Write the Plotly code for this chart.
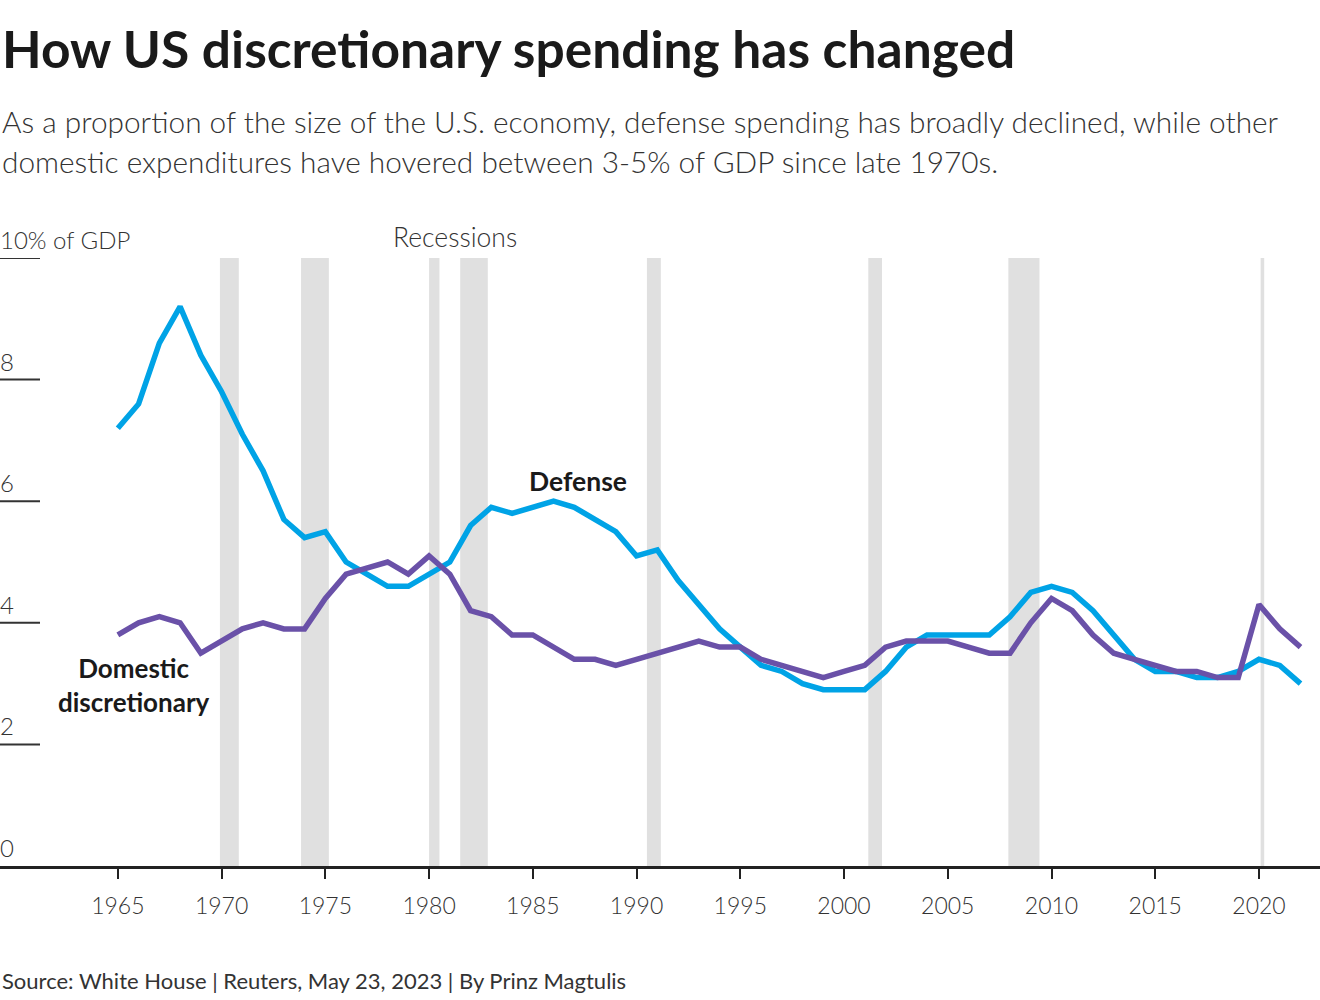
import plotly.graph_objects as go

years = list(range(1965, 2023))
defense = [7.2, 7.6, 8.6, 9.2, 8.4, 7.8, 7.1, 6.5, 5.7, 5.4,
           5.5, 5.0, 4.8, 4.6, 4.6, 4.8, 5.0, 5.6, 5.9, 5.8,
           5.9, 6.0, 5.9, 5.7, 5.5, 5.1, 5.2, 4.7, 4.3, 3.9,
           3.6, 3.3, 3.2, 3.0, 2.9, 2.9, 2.9, 3.2, 3.6, 3.8,
           3.8, 3.8, 3.8, 4.1, 4.5, 4.6, 4.5, 4.2, 3.8, 3.4,
           3.2, 3.2, 3.1, 3.1, 3.2, 3.4, 3.3, 3.0]
domestic = [3.8, 4.0, 4.1, 4.0, 3.5, 3.7, 3.9, 4.0, 3.9, 3.9,
            4.4, 4.8, 4.9, 5.0, 4.8, 5.1, 4.8, 4.2, 4.1, 3.8,
            3.8, 3.6, 3.4, 3.4, 3.3, 3.4, 3.5, 3.6, 3.7, 3.6,
            3.6, 3.4, 3.3, 3.2, 3.1, 3.2, 3.3, 3.6, 3.7, 3.7,
            3.7, 3.6, 3.5, 3.5, 4.0, 4.4, 4.2, 3.8, 3.5, 3.4,
            3.3, 3.2, 3.2, 3.1, 3.1, 4.3, 3.9, 3.6]
recession_start = [1969.92, 1973.83, 1980.0, 1981.5, 1990.5, 2001.17, 2007.92, 2020.08]
recession_end = [1970.83, 1975.17, 1980.5, 1982.83, 1991.17, 2001.83, 2009.42, 2020.25]
x_ticks = [1965, 1970, 1975, 1980, 1985, 1990, 1995, 2000, 2005, 2010, 2015, 2020]
y_ticks = [0, 2, 4, 6, 8, 10]
y_ticktext = ["0", "2", "4", "6", "8", "10% of GDP"]

FONT = "Lato"
DEF_COLOR = "#00a3e6"
DOM_COLOR = "#6a51a8"

fig = go.Figure()
fig.add_trace(go.Scatter(x=years, y=defense, mode="lines",
                         line=dict(color=DEF_COLOR, width=5.5), hoverinfo="skip"))
fig.add_trace(go.Scatter(x=years, y=domestic, mode="lines",
                         line=dict(color=DOM_COLOR, width=5.5), hoverinfo="skip"))

for s, e in zip(recession_start, recession_end):
    fig.add_shape(type="rect", xref="x", yref="y", x0=s, x1=e, y0=0, y1=10,
                  fillcolor="#e0e0e0", line=dict(width=0), layer="below")

# short tick stubs under the y labels
for v in y_ticks[1:]:
    fig.add_shape(type="line", xref="paper", yref="y", x0=0, x1=40/1320, y0=v, y1=v,
                  line=dict(color="#333333", width=2))

annotations = [
    dict(text="<b>How US discretionary spending has changed</b>", xref="paper", yref="paper",
         x=0, y=1.3455, xanchor="left", yanchor="middle", showarrow=False,
         font=dict(family=FONT, size=51.5, color="#1a1a1a")),
    dict(text="As a proportion of the size of the U.S. economy, defense spending has broadly declined, while other",
         xref="paper", yref="paper", x=0, y=1.2237, xanchor="left", yanchor="middle", showarrow=False,
         font=dict(family=FONT, size=29.8, color="#333333", weight=300)),
    dict(text="domestic expenditures have hovered between 3-5% of GDP since late 1970s.",
         xref="paper", yref="paper", x=0, y=1.1579, xanchor="left", yanchor="middle", showarrow=False,
         font=dict(family=FONT, size=29.8, color="#333333", weight=300)),
    dict(text="Recessions", xref="paper", yref="paper", x=455/1320, y=1.0345,
         xanchor="center", yanchor="middle", showarrow=False,
         font=dict(family=FONT, size=26.5, color="#333333", weight=300)),
    dict(text="<b>Defense</b>", xref="x", yref="y", x=1987.18, y=6.33,
         xanchor="center", yanchor="middle", showarrow=False,
         font=dict(family=FONT, size=26.5, color="#1a1a1a")),
    dict(text="<b>Domestic<br>discretionary</b>", xref="x", yref="y", x=1965.78, y=2.98,
         xanchor="center", yanchor="middle", showarrow=False,
         font=dict(family=FONT, size=26, color="#1a1a1a")),
    dict(text="Source: White House | Reuters, May 23, 2023 | By Prinz Magtulis",
         xref="paper", yref="paper", x=0, y=-0.1875, xanchor="left", yanchor="middle", showarrow=False,
         font=dict(family=FONT, size=22, color="#333333")),
]
for v, t in zip(y_ticks, y_ticktext):
    annotations.append(dict(text=t, xref="paper", yref="y", x=0, y=v, xanchor="left", yanchor="bottom",
                            showarrow=False, yshift=2, xshift=-2,
                            font=dict(family=FONT, size=24, color="#333333", weight=300)))

fig.update_layout(
    width=1320, height=1000,
    margin=dict(l=0, r=0, t=258, b=134),
    paper_bgcolor="white", plot_bgcolor="white",
    showlegend=False,
    annotations=annotations,
    font=dict(family=FONT, color="#333333"),
)
fig.update_xaxes(range=[1959.32, 2022.94], showgrid=False, zeroline=False,
                 showline=True, linecolor="#222222", linewidth=2.5,
                 ticks="outside", ticklen=10, tickwidth=2, tickcolor="#222222",
                 ticklabelstandoff=8,
                 tickvals=x_ticks, tickfont=dict(family=FONT, size=23, color="#333333", weight=300))
fig.update_yaxes(range=[0, 10], showgrid=False, zeroline=False, showline=False,
                 ticks="", showticklabels=False)

fig.write_html("out.html", config={"displayModeBar": False},
               post_script="document.body.style.margin='0';")
